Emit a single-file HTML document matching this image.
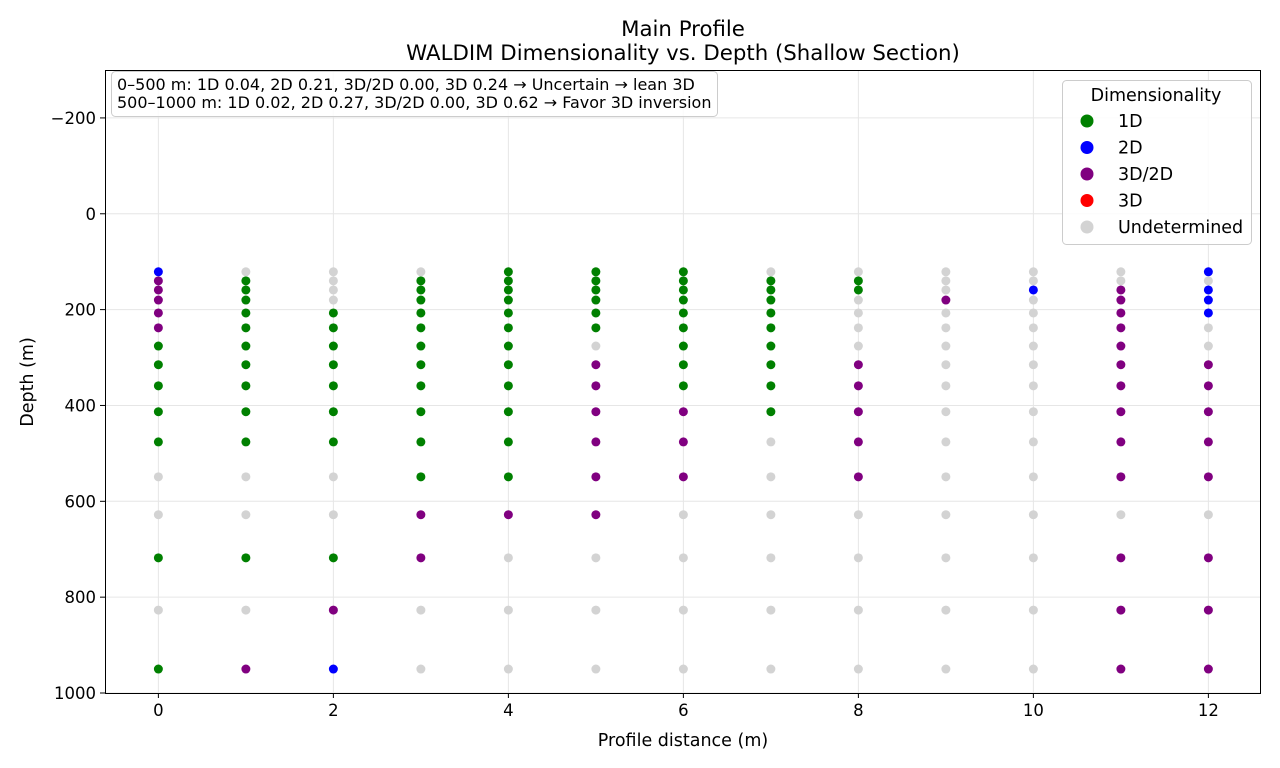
<!DOCTYPE html>
<html><head><meta charset="utf-8"><style>
html,body{margin:0;padding:0;background:#fff}
svg{display:block;font-family:"DejaVu Sans","Liberation Sans",sans-serif}
</style></head><body>
<svg id="chart" width="1280" height="768" xmlns="http://www.w3.org/2000/svg">
<rect x="0" y="0" width="1280" height="768" fill="#fff"/>
<text x="683" y="36" text-anchor="middle" font-size="21.3" fill="#000">Main Profile</text>
<text x="683" y="60" text-anchor="middle" font-size="21.3" fill="#000">WALDIM Dimensionality vs. Depth (Shallow Section)</text>
<g id="grid"></g>
<g id="ticks"></g>
<g id="pts"></g>
<rect x="105.5" y="70.5" width="1155" height="623" fill="none" stroke="#000" stroke-width="1"/>
<text x="683" y="746" text-anchor="middle" font-size="17.5">Profile distance (m)</text>
<text transform="translate(33,382) rotate(-90)" text-anchor="middle" font-size="17.5">Depth (m)</text>
<g>
<rect x="111.5" y="71.5" width="606" height="45" rx="4" fill="#fff" fill-opacity="0.85" stroke="#ccc"/>
<text x="117" y="90" font-size="16">0–500 m: 1D 0.04, 2D 0.21, 3D/2D 0.00, 3D 0.24 → Uncertain → lean 3D</text>
<text x="117" y="108" font-size="16">500–1000 m: 1D 0.02, 2D 0.27, 3D/2D 0.00, 3D 0.62 → Favor 3D inversion</text>
</g>
<g id="legend">
<rect x="1062.5" y="80.5" width="189" height="164" rx="4" fill="#fff" fill-opacity="0.85" stroke="#ccc"/>
<text x="1156" y="101" text-anchor="middle" font-size="17.5">Dimensionality</text>
</g>
</svg>
<script>
const stations=[0,1,2,3,4,5,6,7,8,9,10,11,12];
const depths=[121,140,159,180,207,238,276,315,359,413,476,549,628,718,827,950];
const classNames=['1D','2D','3D/2D','3D','Undetermined'];
const classColors=['#008000','#0000ff','#800080','#ff0000','#d3d3d3'];
const codeMap={G:0,B:1,P:2,R:3,U:4};
const classGrid=[
"BPPPPPGGGGGUUGUG",
"UGGGGGGGGGGUUGUP",
"UUUUGGGGGGGUUGPB",
"UGGGGGGGGGGGPPUU",
"GGGGGGGGGGGGPUUU",
"GGGGGGUPPPPPPUUU",
"GGGGGGGGGPPPUUUU",
"UGGGGGGGGGUUUUUU",
"UGGUUUUPPPPPUUUU",
"UUUPUUUUUUUUUUUU",
"UUBUUUUUUUUUUUUU",
"UUPPPPPPPPPPUPPP",
"BUBBBUUPPPPPUPPP"];
const xTicks=[0,2,4,6,8,10,12];
const yTicks=[-200,0,200,400,600,800,1000];
const NS='http://www.w3.org/2000/svg';
const X0=105,X1=1260,Y0=70,Y1=693;
const xMin=-0.61,xMax=12.59,yMin=-300,yMax=1000;
const sx=v=>X0+(v-xMin)/(xMax-xMin)*(X1-X0);
const sy=v=>Y0+(v-yMin)/(yMax-yMin)*(Y1-Y0);
function mk(tag,attrs,parent){const e=document.createElementNS(NS,tag);for(const k in attrs)e.setAttribute(k,attrs[k]);parent.appendChild(e);return e;}
const grid=document.getElementById('grid'),ticks=document.getElementById('ticks'),pts=document.getElementById('pts'),leg=document.getElementById('legend');
xTicks.forEach(t=>{const x=sx(t);
 const g=mk('line',{x1:x,x2:x,y1:Y0,y2:Y1,stroke:'#e6e6e6','stroke-width':1},grid);
 
 mk('line',{x1:x,x2:x,y1:Y1,y2:Y1+5,stroke:'#000'},ticks);
 const tx=mk('text',{x:x,y:Y1+23,'text-anchor':'middle','font-size':16.5},ticks);tx.textContent=t;
 });
yTicks.forEach(t=>{const y=sy(t);
 const g=mk('line',{x1:X0,x2:X1,y1:y,y2:y,stroke:'#e6e6e6','stroke-width':1},grid);
 
 mk('line',{x1:X0-5,x2:X0,y1:y,y2:y,stroke:'#000'},ticks);
 const tx=mk('text',{x:X0-9,y:y+6,'text-anchor':'end','font-size':16.5},ticks);tx.textContent=(t<0?'\u2212'+(-t):t);
 });
stations.forEach((s,i)=>{depths.forEach((d,j)=>{const c=codeMap[classGrid[i][j]];
 const p=mk('circle',{cx:sx(s),cy:sy(d),r:4.5,fill:classColors[c]},pts);
 
 });});
classNames.forEach((n,i)=>{const y=121+i*26.5;
 const c=mk('circle',{cx:1087,cy:y,r:6.5,fill:classColors[i]},leg);
 
 const t=mk('text',{x:1118,y:y+6,'font-size':17.5},leg);t.textContent=n;
 });
</script>
</body></html>
